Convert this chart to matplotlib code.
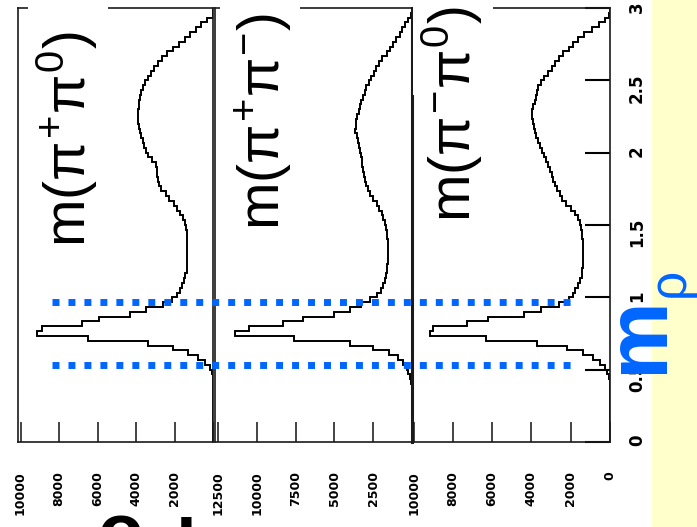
import numpy as np
import matplotlib
matplotlib.use("Agg")
import matplotlib.pyplot as plt
from matplotlib.patches import Rectangle
from matplotlib.lines import Line2D
from matplotlib.transforms import blended_transform_factory

# ---- data: counts per 1/30 GeV mass bin, from 0 to 3 GeV ----
MASS_EDGES = np.linspace(0.0, 3.0, 91)

PIPZ = [0, 0, 0, 0, 0, 0, 0, 0, 0, 0,
        0, 0, 0, 0, 30, 150, 400, 800, 1300, 2100,
        3400, 6500, 9150, 8900, 6800, 5900, 4300, 3500, 2600, 2150,
        1850, 1700, 1600, 1520, 1450, 1370, 1350, 1340, 1350, 1360,
        1340, 1350, 1350, 1360, 1400, 1450, 1580, 1710, 1850, 2030,
        2280, 2450, 2700, 2800, 2880, 2900, 2900, 2950, 3170, 3360,
        3480, 3590, 3660, 3740, 3810, 3860, 3890, 3890, 3890, 3860,
        3830, 3790, 3720, 3630, 3510, 3370, 3210, 3050, 2850, 2650,
        2400, 2100, 1750, 1450, 1200, 900, 620, 300, 0, 0]

PIPM = [0, 0, 0, 0, 0, 0, 0, 0, 0, 0,
        0, 0, 60, 130, 240, 300, 600, 900, 1500, 2500,
        4000, 7600, 11400, 10500, 8300, 7000, 5000, 4000, 3300, 2700,
        2250, 2000, 1850, 1770, 1700, 1640, 1600, 1570, 1550, 1530,
        1530, 1560, 1600, 1630, 1680, 1740, 1850, 1960, 2100, 2260,
        2500, 2700, 2850, 2970, 3050, 3120, 3150, 3200, 3230, 3270,
        3340, 3410, 3490, 3570, 3660, 3640, 3580, 3520, 3440, 3350,
        3260, 3170, 3060, 2940, 2800, 2650, 2480, 2330, 2150, 1920,
        1620, 1450, 1250, 1000, 800, 650, 430, 240, 80, 0]

PIMZ = [0, 0, 0, 0, 0, 0, 0, 0, 0, 0,
        0, 0, 0, 50, 150, 250, 500, 850, 1400, 2200,
        3700, 6300, 9150, 9000, 7300, 6200, 4400, 3500, 2600, 2100,
        1900, 1780, 1620, 1520, 1440, 1420, 1400, 1380, 1360, 1360,
        1380, 1400, 1420, 1440, 1480, 1550, 1650, 1790, 1990, 2250,
        2440, 2560, 2700, 2800, 2890, 2970, 3080, 3170, 3270, 3360,
        3440, 3560, 3680, 3790, 3840, 3880, 3920, 3950, 3950, 3900,
        3840, 3780, 3730, 3650, 3530, 3380, 3140, 2960, 2800, 2610,
        2400, 2110, 1860, 1620, 1310, 940, 540, 280, 60, 0]

LABELS = [r"$m(\pi^{+}\pi^{0})$", r"$m(\pi^{+}\pi^{-})$", r"$m(\pi^{-}\pi^{0})$"]

TICKS_1 = [0, 2000, 4000, 6000, 8000, 10000]
TICKLAB_1 = ["", "2000", "4000", "6000", "8000", "10000"]
TICKS_2 = [0, 2500, 5000, 7500, 10000, 12500]
TICKLAB_2 = ["", "2500", "5000", "7500", "10000", "12500"]
TICKS_3 = [0, 2000, 4000, 6000, 8000, 10000]
TICKLAB_3 = ["0", "2000", "4000", "6000", "8000", "10000"]
XMAX = [10130, 12700, 10080]

MASS_TICKS = [0, 0.5, 1, 1.5, 2, 2.5, 3]
MASS_TICKLAB = ["0", "0.5", "1", "1.5", "2", "2.5", "3"]
RHO_WINDOW = [0.53, 0.97]

BLUE = "#0066ff"
YELLOW = "#ffffcc"
W, H = 697, 527

plt.rcParams["mathtext.fontset"] = "custom"
plt.rcParams["mathtext.rm"] = "Liberation Sans"
plt.rcParams["mathtext.it"] = "Liberation Sans"
plt.rcParams["mathtext.bf"] = "Liberation Sans:bold"


def fbox(x0, x1, y0, y1):
    # pixel box (top-left origin) -> figure fraction rect
    return [x0 / W, 1 - y1 / H, (x1 - x0) / W, (y1 - y0) / H]


fig = plt.figure(figsize=(W / 100, H / 100), dpi=100)

panel_x = [(18, 213), (215, 412), (412, 610)]
series = [PIPZ, PIPM, PIMZ]
ticks = [(TICKS_1, TICKLAB_1), (TICKS_2, TICKLAB_2), (TICKS_3, TICKLAB_3)]

axes = []
for (x0, x1), vals, (tk, tl), xmax in zip(panel_x, series, ticks, XMAX):
    ax = fig.add_axes(fbox(x0, x1, 8, 442))
    ax.set_facecolor("none")
    ax.stairs(vals, MASS_EDGES, orientation="horizontal", baseline=None,
              color="black", lw=1.4)
    ax.set_xlim(xmax, 0)
    ax.set_ylim(0, 3)
    ax.set_xticks(tk)
    ax.set_xticklabels(tl, fontsize=9, fontweight="bold", rotation=90)
    ax.tick_params(axis="x", direction="in", length=14.5, width=1.1,
                   pad=21, color="#111111")
    ax.tick_params(axis="y", left=False, labelleft=False)
    for sp in ax.spines.values():
        sp.set_linewidth(1.2)
        sp.set_color("#1a1a1a")
    axes.append(ax)

ax3 = axes[2]
ax3.spines["left"].set_linewidth(2.2)
ax3.set_yticks(MASS_TICKS)
ax3.set_yticklabels(MASS_TICKLAB, fontsize=12, fontweight="bold", rotation=90)
ax3.tick_params(axis="y", right=True, labelright=True, direction="in",
                length=18, width=1.5, pad=13)

# yellow strip on the right
fig.add_artist(Rectangle((652 / W, 0), 45 / W, 1, transform=fig.transFigure,
                         facecolor=YELLOW, edgecolor="none", zorder=1))

# white boxes behind the big labels (they hide bits of the frame)
for bx in [(28, 108), (220, 300), (413, 493)]:
    r = fbox(bx[0], bx[1], 0, 95)
    fig.add_artist(Rectangle((r[0], r[1]), r[2], r[3], transform=fig.transFigure,
                             facecolor="white", edgecolor="none", zorder=2))

# big channel labels
for (bx, by), lab in zip([(86, 247), (279, 230), (471, 222)], LABELS):
    fig.text(bx / W, 1 - by / H, lab, fontsize=41, rotation=90,
             rotation_mode="anchor", ha="left", va="baseline", zorder=3)

# rho mass window
tr = blended_transform_factory(fig.transFigure, ax3.transData)
for m in RHO_WINDOW:
    ln = Line2D([52 / W, 573 / W], [m, m], transform=tr, color=BLUE, lw=5.0,
                linestyle=(0, (1, 1.3)), dash_capstyle="butt", zorder=4)
    fig.add_artist(ln)

fig.text(662 / W, 1 - 373 / H, "m", fontsize=63, fontweight="bold",
         family="Liberation Sans", color=BLUE, rotation=90,
         rotation_mode="anchor", ha="left", va="baseline", zorder=8)
fig.text(684 / W, 1 - 297 / H, "ρ", fontsize=37, family="Liberation Sans",
         color=BLUE, rotation=90, rotation_mode="anchor", ha="left",
         va="baseline", zorder=8)

# cut-off letters at the bottom edge
fig.text(120 / W, 1 - 556 / H, "o", fontsize=54, fontweight="bold",
         family="Liberation Sans", ha="center", va="baseline", zorder=3)
fig.text(186 / W, 1 - 556 / H, "ı", fontsize=54, fontweight="bold",
         family="Liberation Sans", ha="center", va="baseline", zorder=3)

fig.savefig("out.png", dpi=100)
